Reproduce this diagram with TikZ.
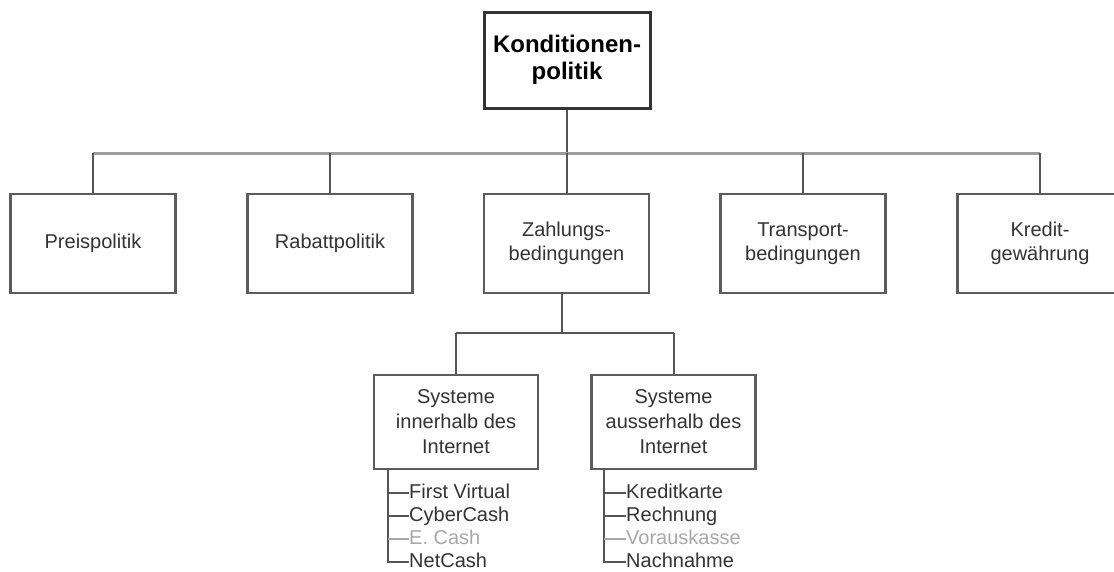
\documentclass[tikz,border=0pt]{standalone}
\usepackage{fontspec}
\setmainfont{Liberation Sans}
\definecolor{boxgray}{HTML}{5C5C5C}
\definecolor{linegray}{HTML}{555555}
\definecolor{busgray}{HTML}{9C9C9C}
\definecolor{textgray}{HTML}{333333}
\definecolor{faintgray}{HTML}{A8A8A8}
\begin{document}
\begin{tikzpicture}[x=1pt,y=-1pt,
  box/.style={draw=boxgray, line width=2.6pt, fill=white, align=center,
    inner sep=0pt, text=textgray, minimum width=165pt,
    font=\fontsize{20}{23.5}\selectfont},
  rootbox/.style={box, draw=black!80, line width=3pt, text=black,
    minimum width=166pt, minimum height=96pt,
    font=\fontsize{24}{27}\selectfont\bfseries},
  mainbox/.style={box, minimum height=99pt},
  subbox/.style={box, minimum width=164pt, minimum height=94pt,
    font=\fontsize{20}{25}\selectfont},
  conn/.style={draw=linegray, line width=2pt},
  bus/.style={draw=busgray, line width=3pt},
  item/.style={anchor=west, inner sep=0pt, text=textgray,
    font=\fontsize{20}{24}\selectfont, text height=14pt, text depth=3pt},
  faint/.style={text=faintgray},
  tick/.style={draw=linegray, line width=1.8pt},
  fainttick/.style={draw=faintgray, line width=1.2pt}
]
% page area
\fill[white] (0,0) rectangle (1114,571);
\useasboundingbox (0,0) rectangle (1114,571);

% root
\node[rootbox] (root) at (567,60) {Konditionen-\\politik};

% second level
\node[mainbox] (preis)  at (93,243.5)   {Preispolitik};
\node[mainbox] (rabatt) at (330,243.5)  {Rabattpolitik};
\node[mainbox] (zahl)   at (566.5,243.5) {Zahlungs-\\bedingungen};
\node[mainbox] (trans)  at (803,243.5)  {Transport-\\bedingungen};
\node[mainbox] (kredit) at (1040,243.5) {Kredit-\\gewährung};

% third level
\node[subbox] (innen) at (456,422)   {Systeme\\innerhalb des\\Internet};
\node[subbox] (aussen) at (673.5,422) {Systeme\\ausserhalb des\\Internet};

% bus from the root to the second level
\coordinate (bus) at (567,153);
\draw[conn] (root.south) -- (bus);
\draw[bus] (preis.north |- bus) -- (kredit.north |- bus);
\foreach \n in {preis,rabatt,zahl,trans,kredit}
  \draw[conn] (\n.north |- bus) -- (\n.north);

% branch below the payment terms
\coordinate (sub) at (562,333);
\draw[conn] (zahl.south -| sub) -- (sub);
\draw[conn] (innen.north |- sub) -- (aussen.north |- sub);
\draw[conn] (innen.north |- sub) -- (innen.north);
\draw[conn] (aussen.north |- sub) -- (aussen.north);

% payment systems inside the internet
\coordinate (ta) at (388,469);
\node[item] (fv) at (409,493) {First Virtual};
\node[item] (cc) at (409,516) {CyberCash};
\node[item,faint] (ec) at (409,539) {E. Cash};
\node[item] (nc) at (409,562) {NetCash};
\draw[conn] (ta) |- (nc.west);
\draw[tick] (ta |- fv.west) -- (fv.west);
\draw[tick, line width=2.6pt] (ta |- cc.west) -- (cc.west);
\draw[fainttick] (ta |- ec.west) -- (ec.west);

% payment systems outside the internet
\coordinate (tb) at (604,469);
\node[item] (kk) at (626,493) {Kreditkarte};
\node[item] (re) at (626,516) {Rechnung};
\node[item,faint] (vk) at (626,539) {Vorauskasse};
\node[item] (nn) at (626,562) {Nachnahme};
\draw[conn] (tb) |- (nn.west);
\draw[tick] (tb |- kk.west) -- (kk.west);
\draw[tick, line width=2.6pt] (tb |- re.west) -- (re.west);
\draw[fainttick] (tb |- vk.west) -- (vk.west);
\end{tikzpicture}
\end{document}
